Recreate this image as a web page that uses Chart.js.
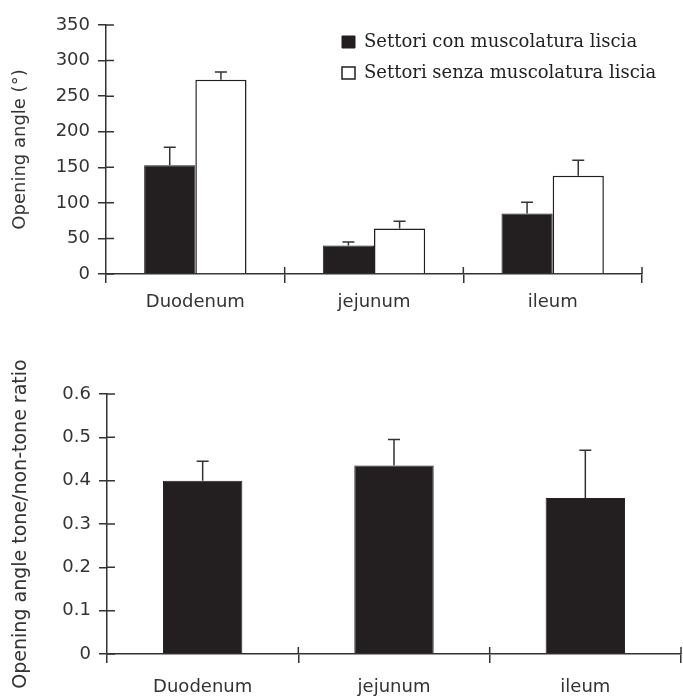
<!DOCTYPE html>
<html>
<head>
<meta charset="utf-8">
<script src="https://cdn.jsdelivr.net/npm/chart.js@4/dist/chart.umd.min.js"></script>
<style>
  body { margin: 0; background: #fff; }
  canvas { position: absolute; left: 0; }
  #angleChart { top: 0; }
  #ratioChart { top: 340px; }
</style>
</head>
<body>
<canvas id="angleChart" width="683" height="330"></canvas>
<canvas id="ratioChart" width="683" height="358"></canvas>
<script>
// data
const categories = ['Duodenum', 'jejunum', 'ileum'];
const smoothValues = [153, 40, 85];
const smoothErrors = [25, 5, 16];
const plainValues = [273, 64, 138];
const plainErrors = [11, 10, 22];
const ratioValues = [0.40, 0.435, 0.36];
const ratioErrors = [0.045, 0.06, 0.11];
const angleMax = 350, angleStep = 50;
const ratioMax = 0.6, ratioStep = 0.1;

const ink = '#231f20';
const axisColor = '#333';
const textColor = '#333';

Chart.defaults.font.family = 'DejaVu Sans';
Chart.defaults.animation = false;

// mean + SD whiskers on top of each bar
const errorBars = {
  id: 'errorBars',
  afterDatasetsDraw(chart) {
    const ctx = chart.ctx;
    const yScale = chart.scales.y;
    chart.data.datasets.forEach((ds, i) => {
      chart.getDatasetMeta(i).data.forEach((bar, j) => {
        const top = yScale.getPixelForValue(ds.data[j] + ds.errors[j]);
        ctx.save();
        ctx.strokeStyle = axisColor;
        ctx.lineWidth = 1.5;
        ctx.beginPath();
        ctx.moveTo(bar.x, bar.y);
        ctx.lineTo(bar.x, top);
        ctx.moveTo(bar.x - 6, top);
        ctx.lineTo(bar.x + 6, top);
        ctx.stroke();
        ctx.restore();
      });
    });
  }
};

// the inner half of the tick marks (ticks cross the axes in the original)
const innerTicks = {
  id: 'innerTicks',
  afterDraw(chart) {
    const {ctx, chartArea, scales: {x, y}} = chart;
    ctx.save();
    ctx.strokeStyle = axisColor;
    ctx.lineWidth = 1.5;
    ctx.beginPath();
    y.ticks.forEach((t, i) => {
      const py = y.getPixelForTick(i);
      ctx.moveTo(chartArea.left, py);
      ctx.lineTo(chartArea.left + 8, py);
    });
    const step = (x.right - x.left) / x.ticks.length;
    for (let k = 1; k <= x.ticks.length; k++) {
      const px = x.left + k * step;
      ctx.moveTo(px, chartArea.bottom);
      ctx.lineTo(px, chartArea.bottom - 7);
    }
    ctx.stroke();
    ctx.restore();
  }
};

// move the legend into the upper right of the plot
const legendSpot = {
  id: 'legendSpot',
  afterLayout(chart) {
    const lg = chart.legend;
    lg.left = 329;
    lg.top = 20;
    lg.right = chart.width;
    lg.width = lg.right - lg.left;
  }
};

function yAxis(max, step, title, titleSize, titlePad, width) {
  return {
    min: 0, max: max,
    ticks: { stepSize: step, color: textColor, font: { size: 18 }, padding: 8 },
    grid: { drawOnChartArea: false, tickLength: 8, color: axisColor, lineWidth: 1.5 },
    border: { color: axisColor, width: 1.5 },
    title: { display: true, text: title, color: textColor, font: { size: titleSize }, padding: { top: titlePad, bottom: 0 } },
    afterFit(scale) { scale.width = width; }
  };
}

function xAxis(height, pad) {
  return {
    grid: { drawOnChartArea: false, tickLength: 9, color: axisColor, lineWidth: 1.5, offset: true },
    border: { color: axisColor, width: 1.5 },
    ticks: { color: textColor, font: { size: 18 }, padding: pad },
    afterFit(scale) { scale.height = height; }
  };
}

// Opening angle chart
new Chart(document.getElementById('angleChart'), {
  type: 'bar',
  data: {
    labels: categories,
    datasets: [{
      label: 'Settori con muscolatura liscia',
      data: smoothValues,
      errors: smoothErrors,
      backgroundColor: ink,
      borderColor: ink,
      borderWidth: 1
    }, {
      label: 'Settori senza muscolatura liscia',
      data: plainValues,
      errors: plainErrors,
      backgroundColor: '#fff',
      borderColor: ink,
      borderWidth: 1.5
    }]
  },
  options: {
    responsive: false,
    categoryPercentage: 0.573,
    barPercentage: 1,
    layout: { padding: { left: 0, right: 41, top: 25, bottom: 0 } },
    plugins: {
      legend: {
        position: 'chartArea',
        align: 'start',
        labels: {
          boxWidth: 13, boxHeight: 12, padding: 13,
          color: '#222',
          font: { family: 'DejaVu Serif', size: 18 }
        }
      },
      tooltip: { enabled: false }
    },
    scales: {
      x: xAxis(56, 9),
      y: yAxis(angleMax, angleStep, 'Opening angle (°)', 18, 10, 106)
    }
  },
  plugins: [errorBars, innerTicks, legendSpot]
});

// tone / non-tone ratio chart
new Chart(document.getElementById('ratioChart'), {
  type: 'bar',
  data: {
    labels: categories,
    datasets: [{
      label: 'ratio',
      data: ratioValues,
      errors: ratioErrors,
      backgroundColor: ink,
      borderColor: ink,
      borderWidth: 1
    }]
  },
  options: {
    responsive: false,
    categoryPercentage: 0.415,
    barPercentage: 1,
    layout: { padding: { left: 0, right: 2, top: 54, bottom: 0 } },
    plugins: {
      legend: { display: false },
      tooltip: { enabled: false }
    },
    scales: {
      x: xAxis(44, 14),
      y: yAxis(ratioMax, ratioStep, 'Opening angle tone/non-tone ratio', 19, 10, 107)
    }
  },
  plugins: [errorBars, innerTicks]
});
</script>
</body>
</html>
